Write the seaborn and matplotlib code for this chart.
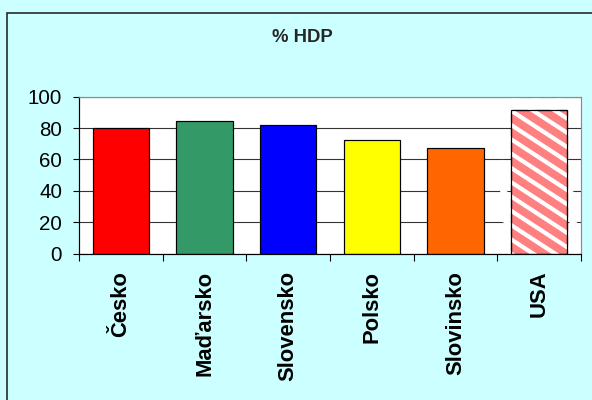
import matplotlib
matplotlib.use("Agg")
import matplotlib.pyplot as plt
from matplotlib.patches import Rectangle
from matplotlib.lines import Line2D
from matplotlib.transforms import IdentityTransform
from matplotlib.ticker import FixedLocator, NullFormatter
import numpy as np
import seaborn as sns
import pandas as pd

# Data
countries = ["Česko", "Maďarsko", "Slovensko", "Polsko", "Slovinsko", "USA"]
values = [80.0, 84.5, 81.7, 72.3, 67.2, 91.7]
bar_colors = ["#FF0000", "#339966", "#0000FF", "#FFFF00", "#FF6600", "#FF8080"]
y_ticks = [0, 20, 40, 60, 80, 100]
title = "% HDP"

DPI = 78
W_PX, H_PX = 592, 400


def pt(px):
    """Convert a size in pixels to points for this figure's dpi."""
    return px * 72.0 / DPI


sns.set_style("white")
plt.rcParams["font.family"] = ["Liberation Sans", "DejaVu Sans"]

df = pd.DataFrame({"country": countries, "value": values})

fig = plt.figure(figsize=(W_PX / DPI, H_PX / DPI), dpi=DPI)
fig.patch.set_facecolor("#CCFFFF")

# outer chart frame
fig.patches.append(Rectangle((7.3 / W_PX, -0.5), 2.0, 1.5 - 12.7 / H_PX,
                             transform=fig.transFigure, fill=False,
                             edgecolor="#222222", linewidth=pt(1.6)))

ax = fig.add_axes([79 / W_PX, (H_PX - 253.7) / H_PX,
                   (581 - 79) / W_PX, (253.7 - 96.7) / H_PX])
ax.set_facecolor("white")

sns.barplot(data=df, x="country", y="value", hue="country",
            palette=dict(zip(countries, bar_colors)), order=countries,
            width=0.67, edgecolor="black", linewidth=pt(1.2),
            legend=False, saturation=1, ax=ax)

ax.set_xlim(-0.5, len(countries) - 0.5)
ax.set_ylim(0, 100)
ax.set_yticks(y_ticks)
ax.set_xlabel("")
ax.set_ylabel("")

# striped USA bar: white diagonal stripes clipped to the bar
usa = ax.patches[len(countries) - 1]
(bx0, by0), (bx1, by1) = ax.transData.transform(
    [(usa.get_x(), usa.get_y()),
     (usa.get_x() + usa.get_width(), usa.get_y() + usa.get_height())])
slope = 0.65          # pixel drop per pixel to the right
step = 14.3           # vertical stripe period in pixels
for c in np.arange(by0 - 2 * step, by1 + slope * (bx1 - bx0) + 2 * step, step):
    xs = [bx0 - 10, bx1 + 10]
    ys = [c + slope * 10, c - slope * (bx1 - bx0 + 10)]
    stripe = Line2D(xs, ys, transform=IdentityTransform(), color="white",
                    linewidth=pt(4.2), solid_capstyle="butt", zorder=2.5)
    stripe.set_clip_path(usa)
    ax.add_line(stripe)
ax.add_patch(Rectangle((usa.get_x(), usa.get_y()), usa.get_width(), usa.get_height(),
                       fill=False, edgecolor="black", linewidth=pt(1.2), zorder=3))

ax.set_axisbelow(True)
ax.yaxis.grid(True, color="#333333", linewidth=pt(1.1))
ax.xaxis.grid(False)

for side in ("left", "bottom"):
    ax.spines[side].set_color("black")
    ax.spines[side].set_linewidth(pt(1.2))
for side in ("top", "right"):
    ax.spines[side].set_visible(True)
    ax.spines[side].set_color("#8C8C8C")
    ax.spines[side].set_linewidth(pt(1.2))

ax.tick_params(axis="y", which="major", left=True, length=pt(6), width=pt(1.1),
               color="black", pad=pt(11), labelsize=pt(20.5), labelcolor="black")
ax.tick_params(axis="x", which="major", bottom=False, length=0, pad=pt(17),
               labelsize=pt(22), labelcolor="black")
ax.xaxis.set_minor_locator(FixedLocator([i - 0.5 for i in range(len(countries) + 1)]))
ax.xaxis.set_minor_formatter(NullFormatter())
ax.tick_params(axis="x", which="minor", bottom=True, length=pt(7), width=pt(1.1),
               color="black", direction="out")
for lbl in ax.get_xticklabels():
    lbl.set_rotation(90)
    lbl.set_fontweight("bold")
    lbl.set_va("top")
    lbl.set_ha("center")

fig.text(302 / W_PX, 1 - 37 / H_PX, title, ha="center", va="center",
         fontsize=pt(18.5), fontweight="bold")

fig.savefig("out.png", dpi=DPI, facecolor=fig.get_facecolor())
